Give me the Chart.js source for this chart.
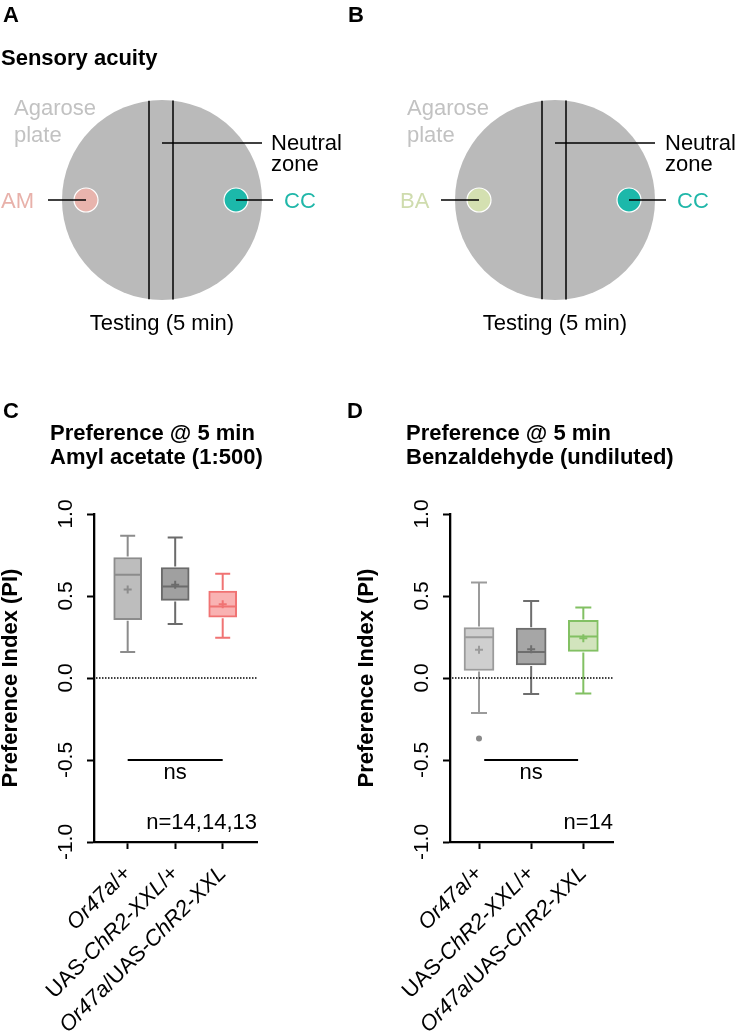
<!DOCTYPE html>
<html>
<head>
<meta charset="utf-8">
<script src="https://cdn.jsdelivr.net/npm/chart.js@4.4.1/dist/chart.umd.min.js"></script>
<style>
  html, body { margin: 0; padding: 0; background: #fff; overflow: hidden; }
  #page { position: relative; width: 738px; height: 1033px; overflow: hidden; font-family: "Liberation Sans", Arial, sans-serif; color: #000; }
  .t { position: absolute; font-size: 22px; line-height: 25px; white-space: nowrap; }
  .b { font-weight: bold; }
  canvas { position: absolute; }
</style>
</head>
<body>
<div id="page">
  <canvas id="plateA" width="370" height="340" style="left:0;top:0"></canvas>
  <canvas id="plateB" width="345" height="340" style="left:393px;top:0"></canvas>
  <canvas id="chartC" width="370" height="653" style="left:0;top:380px"></canvas>
  <canvas id="chartD" width="382" height="653" style="left:356px;top:380px"></canvas>

  <div class="t b" style="left:3px;top:2px">A</div>
  <div class="t b" style="left:348px;top:2px">B</div>
  <div class="t b" style="left:1px;top:45px">Sensory acuity</div>

  <div class="t" style="left:14px;top:94px;line-height:27px;color:#c2c2c2">Agarose<br>plate</div>
  <div class="t" style="left:271px;top:132px;line-height:21px">Neutral<br>zone</div>
  <div class="t" style="left:1px;top:188px;color:#e8b1aa">AM</div>
  <div class="t" style="left:284px;top:188px;color:#20b7a9">CC</div>
  <div class="t" style="left:62px;width:200px;text-align:center;top:310px">Testing (5 min)</div>

  <div class="t" style="left:407px;top:94px;line-height:27px;color:#c2c2c2">Agarose<br>plate</div>
  <div class="t" style="left:665px;top:132px;line-height:21px">Neutral<br>zone</div>
  <div class="t" style="left:400px;top:188px;color:#cfdcae">BA</div>
  <div class="t" style="left:677px;top:188px;color:#20b7a9">CC</div>
  <div class="t" style="left:455px;width:200px;text-align:center;top:310px">Testing (5 min)</div>

  <div class="t b" style="left:3px;top:398px">C</div>
  <div class="t b" style="left:347px;top:398px">D</div>
  <div class="t b" style="left:50px;top:421px;line-height:23.5px">Preference @ 5 min<br>Amyl acetate (1:500)</div>
  <div class="t b" style="left:406px;top:421px;line-height:23.5px">Preference @ 5 min<br>Benzaldehyde (undiluted)</div>
</div>
<script>
const groups = ['Or47a/+', 'UAS-ChR2-XXL/+', 'Or47a/UAS-ChR2-XXL'];
const italicParts = ['Or47a', 'ChR2-XXL'];
const yTicks = [-1.0, -0.5, 0.0, 0.5, 1.0];

// C - amyl acetate (1:500)
const amWhiskerLow = [0.158, 0.33, 0.245];
const amQ1 = [0.355, 0.473, 0.371];
const amMedian = [0.63, 0.558, 0.436];
const amQ3 = [0.735, 0.674, 0.53];
const amWhiskerHigh = [0.867, 0.857, 0.635];
const amMean = [0.54, 0.568, 0.45];
const amOutliers = [];
const amN = 'n=14,14,13';

// D - benzaldehyde (undiluted)
const baWhiskerLow = [-0.214, -0.098, -0.094];
const baQ1 = [0.046, 0.08, 0.162];
const baMedian = [0.249, 0.158, 0.253];
const baQ3 = [0.308, 0.304, 0.351];
const baWhiskerHigh = [0.582, 0.469, 0.43];
const baMean = [0.172, 0.176, 0.243];
const baOutliers = [{x: 0, y: -0.369}];
const baN = 'n=14';

// schematic of the plate, in plate radii (centre 0,0)
const laneX = [-0.13, 0.11];
const neutralX = [0, 1.0];
const neutralY = 0.57;
const odourX = [-0.76, 0.74];
const leaderX = [[-1.14, -0.76], [0.74, 1.11]];

const FONT = '"Liberation Sans", Arial, sans-serif';
Chart.defaults.font.family = FONT;
Chart.defaults.color = '#000';

function plateChart(id, width, odourColor) {
  const line = (pts) => ({ data: pts, showLine: true, borderColor: '#000', borderWidth: 1.5, pointRadius: 0, order: 0 });
  new Chart(document.getElementById(id), {
    type: 'scatter',
    data: {
      datasets: [
        { data: [{x: 0, y: 0}], pointRadius: 100, backgroundColor: '#bababa', borderWidth: 0, order: 9 },
        { data: odourX.map(x => ({x, y: 0})), pointRadius: 12, backgroundColor: [odourColor, '#1cb8aa'], borderColor: '#fff', borderWidth: 1.2, order: 5 },
        ...laneX.map(x => { const h = Math.sqrt(1 - x * x); return line([{x, y: -h}, {x, y: h}]); }),
        line([{x: neutralX[0], y: neutralY}, {x: neutralX[1], y: neutralY}]),
        ...leaderX.map(([a, b]) => line([{x: a, y: 0}, {x: b, y: 0}]))
      ]
    },
    options: {
      responsive: false, animation: false, events: [],
      layout: { padding: 0, autoPadding: false },
      plugins: { legend: { display: false }, tooltip: { enabled: false } },
      scales: {
        x: { type: 'linear', display: false, min: -1.62, max: (width - 162) / 100 },
        y: { type: 'linear', display: false, min: -1.4, max: 2.0 }
      }
    }
  });
}

function drawLabel(ctx, text, x, y) {
  const re = new RegExp('(' + italicParts.join('|') + ')');
  const parts = text.split(re).filter(s => s.length);
  const fonts = parts.map(p => (italicParts.includes(p) ? 'italic ' : '') + '22px ' + FONT);
  let total = 0;
  const widths = parts.map((p, i) => { ctx.font = fonts[i]; const w = ctx.measureText(p).width; total += w; return w; });
  ctx.save();
  ctx.translate(x, y);
  ctx.rotate(-Math.PI / 4);
  ctx.textBaseline = 'middle';
  ctx.textAlign = 'left';
  ctx.fillStyle = '#000';
  let cur = -total;
  parts.forEach((p, i) => { ctx.font = fonts[i]; ctx.fillText(p, cur, 0); cur += widths[i]; });
  ctx.restore();
}

function boxPlugin(st) {
  return {
    id: 'boxExtras',
    afterDatasetDraw(chart, args) {
      if (args.index !== 0) return;
      const { ctx, scales: { x, y } } = chart;
      const py = v => y.getPixelForValue(v);
      ctx.save();
      ctx.lineWidth = 2;
      st.q1.forEach((q1, i) => {
        const px = x.getPixelForValue(i);
        const half = st.boxWidth / 2, cap = st.capWidth / 2;
        ctx.strokeStyle = st.stroke[i];
        ctx.beginPath();
        ctx.moveTo(px, py(st.q3[i]) - 1); ctx.lineTo(px, py(st.high[i]));
        ctx.moveTo(px - cap, py(st.high[i])); ctx.lineTo(px + cap, py(st.high[i]));
        ctx.moveTo(px, py(q1) + 1); ctx.lineTo(px, py(st.low[i]));
        ctx.moveTo(px - cap, py(st.low[i])); ctx.lineTo(px + cap, py(st.low[i]));
        ctx.moveTo(px - half + 1, py(st.median[i])); ctx.lineTo(px + half - 1, py(st.median[i]));
        ctx.stroke();
      });
      ctx.restore();
    },
    afterDatasetsDraw(chart) {
      const { ctx, chartArea: a, scales: { x, y } } = chart;
      ctx.save();
      // zero line
      ctx.strokeStyle = '#000';
      ctx.lineWidth = 1.5;
      ctx.setLineDash([1.5, 1.5]);
      ctx.beginPath();
      ctx.moveTo(a.left + 2, y.getPixelForValue(0));
      ctx.lineTo(a.right, y.getPixelForValue(0));
      ctx.stroke();
      // significance bar
      ctx.setLineDash([]);
      ctx.lineWidth = 2;
      const sy = y.getPixelForValue(-0.5);
      ctx.beginPath();
      ctx.moveTo(x.getPixelForValue(st.sig[0]), sy);
      ctx.lineTo(x.getPixelForValue(st.sig[1]), sy);
      ctx.stroke();
      ctx.fillStyle = '#000';
      ctx.font = '22px ' + FONT;
      ctx.textAlign = 'center';
      ctx.textBaseline = 'alphabetic';
      ctx.fillText('ns', x.getPixelForValue(1), sy + 19);
      ctx.textAlign = 'right';
      ctx.fillText(st.n, a.right, a.bottom - 13);
      ctx.restore();
    },
    afterDraw(chart) {
      const { ctx, chartArea: a, scales: { x } } = chart;
      groups.forEach((g, i) => drawLabel(ctx, g, x.getPixelForValue(i), a.bottom + 28));
    }
  };
}

function boxChart(id, st) {
  const idx = groups.map((_, i) => i);
  const axisGrid = { offset: false, drawOnChartArea: false, drawTicks: true, tickLength: 7, tickWidth: 2, color: '#000' };
  const axisBorder = { display: true, color: '#000', width: 2.3 };
  new Chart(document.getElementById(id), {
    type: 'bar',
    data: {
      datasets: [
        { type: 'bar', data: idx.map(i => ({x: i, y: [st.q1[i], st.q3[i]]})),
          backgroundColor: st.fill, borderColor: st.stroke, borderWidth: 2, borderSkipped: false,
          barThickness: st.boxWidth, order: 3 },
        { type: 'scatter', data: idx.map(i => ({x: i, y: st.mean[i]})),
          pointStyle: 'cross', pointRadius: 4, borderColor: st.stroke, borderWidth: 2, order: 1 },
        { type: 'scatter', data: st.outliers,
          pointStyle: 'circle', pointRadius: 3, backgroundColor: '#8a8a8a', borderWidth: 0, order: 1 }
      ]
    },
    options: {
      responsive: false, animation: false, events: [],
      layout: { padding: { left: 0, top: 134, right: st.padRight, bottom: 0 }, autoPadding: false },
      plugins: { legend: { display: false }, tooltip: { enabled: false } },
      scales: {
        x: {
          type: 'linear', min: st.xMin, max: st.xMax, offset: false,
          afterBuildTicks: s => { s.ticks = idx.map(v => ({value: v})); },
          afterFit: s => { s.height = 191; },
          grid: axisGrid, border: axisBorder,
          ticks: { display: false }
        },
        y: {
          type: 'linear', min: -1, max: 1,
          afterBuildTicks: s => { s.ticks = yTicks.map(v => ({value: v})); },
          afterFit: s => { s.width = 94; },
          grid: axisGrid, border: axisBorder,
          ticks: { minRotation: 90, maxRotation: 90, crossAlign: 'center', padding: 3, autoSkip: false,
                   font: { size: 21 }, color: '#000', callback: v => v.toFixed(1) },
          title: { display: true, text: 'Preference Index (PI)', color: '#000', padding: 0,
                   font: { size: 22, weight: 'bold', lineHeight: 0.973 } }
        }
      }
    },
    plugins: [boxPlugin(st)]
  });
}

plateChart('plateA', 370, '#e8b4ad');
plateChart('plateB', 345, '#d4e0b1');

boxChart('chartC', {
  q1: amQ1, q3: amQ3, median: amMedian, low: amWhiskerLow, high: amWhiskerHigh, mean: amMean,
  outliers: amOutliers, n: amN,
  fill: ['#bdbdbd', '#a0a0a0', '#f9b2b2'], stroke: ['#8c8c8c', '#6b6b6b', '#f07373'],
  boxWidth: 28, capWidth: 15, xMin: -0.709, xMax: 2.722, padRight: 113, sig: [0, 2]
});

boxChart('chartD', {
  q1: baQ1, q3: baQ3, median: baMedian, low: baWhiskerLow, high: baWhiskerHigh, mean: baMean,
  outliers: baOutliers, n: baN,
  fill: ['#cfcfcf', '#a6a6a6', '#d2e4bd'], stroke: ['#9b9b9b', '#6e6e6e', '#82c063'],
  boxWidth: 30, capWidth: 16, xMin: -0.556, xMax: 2.569, padRight: 125, sig: [0.1, 1.9]
});
</script>
</body>
</html>
